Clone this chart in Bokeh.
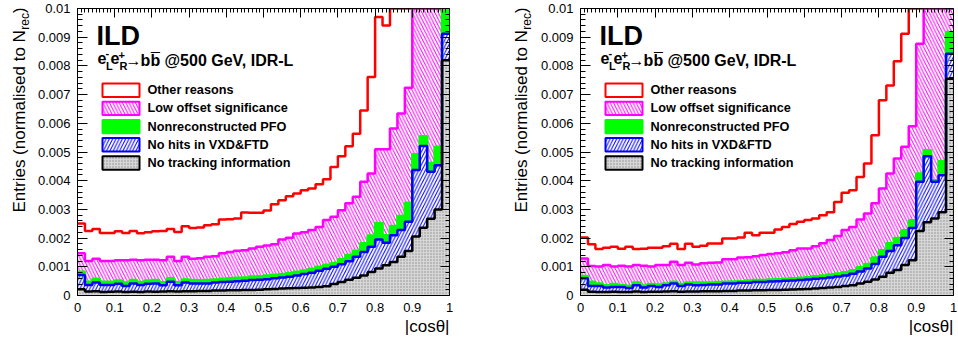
import numpy as np
from bokeh.plotting import figure
from bokeh.layouts import row
from bokeh.core.properties import value
from bokeh.models import (Range1d, LinearAxis, FixedTicker, CustomJSTickFormatter,
                          Label, BoxAnnotation, Title, ColumnDataSource)
from bokeh.embed import file_html
from bokeh.resources import INLINE

FONT = "Liberation Sans"

# |cos(theta)| histogram binning
N_BINS = 50
X_LO, X_HI = 0.0, 1.0
Y_HI = 0.01
UNIT = 1e-3  # the per-bin lists below are in units of 1e-3

# stacked categories, bottom to top
categories = ["No tracking information", "No hits in VXD&FTD",
              "Nonreconstructed PFO", "Low offset significance", "Other reasons"]

# ---- left panel: per-bin entries (x 1e-3, normalised to N_rec) ----
left_no_tracking = [0.22, 0.14, 0.15, 0.12, 0.13, 0.14, 0.12, 0.13, 0.12, 0.14,
                    0.13, 0.14, 0.15, 0.14, 0.15, 0.15, 0.16, 0.16, 0.17, 0.17,
                    0.18, 0.18, 0.19, 0.19, 0.20, 0.22, 0.23, 0.24, 0.25, 0.26,
                    0.27, 0.28, 0.30, 0.32, 0.40, 0.47, 0.55, 0.62, 0.70, 0.82,
                    0.94, 1.05, 1.17, 1.35, 1.55, 2.06, 2.36, 2.67, 3.00, 8.20]
left_no_hits = [0.49, 0.23, 0.30, 0.25, 0.24, 0.27, 0.21, 0.29, 0.25, 0.27,
                0.29, 0.22, 0.33, 0.22, 0.30, 0.27, 0.26, 0.26, 0.28, 0.30,
                0.30, 0.32, 0.32, 0.35, 0.35, 0.35, 0.37, 0.39, 0.40, 0.44,
                0.48, 0.51, 0.56, 0.61, 0.60, 0.62, 0.64, 0.73, 0.82, 0.88,
                1.01, 0.79, 0.93, 0.93, 1.02, 2.31, 2.85, 1.64, 1.54, 0.92]
left_nonreco = [0.12, 0.11, 0.13, 0.11, 0.11, 0.11, 0.12, 0.12, 0.10, 0.11,
                0.12, 0.10, 0.12, 0.10, 0.11, 0.12, 0.11, 0.12, 0.11, 0.11,
                0.12, 0.12, 0.12, 0.12, 0.12, 0.13, 0.12, 0.12, 0.13, 0.13,
                0.12, 0.14, 0.14, 0.14, 0.12, 0.17, 0.22, 0.21, 0.30, 0.39,
                0.58, 0.26, 0.32, 0.49, 0.66, 0.55, 0.34, 0.31, 0.64, 0.83]
left_low_offset = [0.64, 0.72, 0.70, 0.72, 0.72, 0.71, 0.78, 0.71, 0.76, 0.73,
                   0.71, 0.77, 0.75, 0.74, 0.79, 0.74, 0.77, 0.81, 0.81, 0.89,
                   0.92, 0.94, 0.95, 0.98, 1.03, 1.04, 1.07, 1.20, 1.23, 1.33,
                   1.33, 1.35, 1.39, 1.56, 1.62, 1.71, 1.80, 1.88, 2.14, 2.16,
                   2.57, 3.00, 3.40, 3.57, 4.01, 5.88, 6.45, 6.88, 7.82, 6.05]
left_other = [1.04, 1.05, 1.04, 0.98, 0.98, 1.01, 0.95, 1.00, 0.94, 0.95,
              0.99, 1.02, 0.97, 1.01, 1.06, 1.07, 1.07, 1.10, 1.11, 1.18,
              1.14, 1.12, 1.31, 1.24, 1.18, 1.22, 1.39, 1.37, 1.45, 1.39,
              1.47, 1.45, 1.49, 1.42, 1.74, 1.88, 1.99, 2.20, 2.49, 3.36,
              4.60, 4.31, 5.38, 6.16, 6.26, 4.20, 5.00, 6.50, 7.00, 9.00]

# ---- right panel ----
right_no_tracking = [0.20, 0.13, 0.12, 0.12, 0.13, 0.12, 0.12, 0.14, 0.12, 0.13,
                     0.13, 0.14, 0.15, 0.13, 0.14, 0.14, 0.15, 0.15, 0.15, 0.16,
                     0.16, 0.17, 0.17, 0.18, 0.18, 0.19, 0.19, 0.20, 0.21, 0.22,
                     0.23, 0.24, 0.26, 0.28, 0.30, 0.33, 0.36, 0.42, 0.48, 0.56,
                     0.65, 0.79, 0.89, 1.06, 1.23, 2.25, 2.55, 2.68, 2.90, 7.55]
right_no_hits = [0.40, 0.20, 0.21, 0.16, 0.17, 0.18, 0.14, 0.22, 0.16, 0.20,
                 0.17, 0.22, 0.27, 0.20, 0.24, 0.22, 0.22, 0.23, 0.23, 0.26,
                 0.26, 0.27, 0.27, 0.29, 0.29, 0.30, 0.31, 0.31, 0.31, 0.32,
                 0.33, 0.34, 0.34, 0.35, 0.36, 0.37, 0.40, 0.42, 0.46, 0.54,
                 0.70, 0.76, 0.86, 0.94, 1.12, 1.71, 2.30, 1.28, 1.29, 0.87]
right_nonreco = [0.08, 0.15, 0.09, 0.08, 0.10, 0.06, 0.08, 0.09, 0.07, 0.07,
                 0.08, 0.06, 0.06, 0.07, 0.07, 0.09, 0.08, 0.07, 0.09, 0.06,
                 0.07, 0.06, 0.08, 0.07, 0.07, 0.07, 0.07, 0.07, 0.08, 0.08,
                 0.08, 0.09, 0.10, 0.10, 0.11, 0.11, 0.12, 0.14, 0.16, 0.22,
                 0.23, 0.27, 0.25, 0.27, 0.27, 0.29, 0.21, 0.06, 0.50, 0.76]
right_low_offset = [0.61, 0.55, 0.59, 0.70, 0.61, 0.68, 0.67, 0.61, 0.69, 0.61,
                    0.68, 0.64, 0.70, 0.66, 0.69, 0.63, 0.67, 0.69, 0.68, 0.78,
                    0.77, 0.82, 0.81, 0.83, 0.87, 0.89, 0.90, 0.93, 0.98, 1.02,
                    1.00, 1.05, 1.12, 1.20, 1.30, 1.47, 1.51, 1.67, 1.76, 1.89,
                    2.15, 2.43, 2.77, 2.91, 3.28, 4.52, 5.74, 7.48, 7.81, 4.82]
right_other = [0.73, 0.76, 0.61, 0.60, 0.69, 0.59, 0.69, 0.56, 0.59, 0.65,
               0.60, 0.66, 0.62, 0.56, 0.66, 0.62, 0.61, 0.67, 0.66, 0.73,
               0.73, 0.70, 0.86, 0.73, 0.78, 0.74, 0.83, 0.88, 0.91, 0.93,
               0.99, 0.96, 0.98, 0.97, 1.19, 1.30, 1.28, 1.48, 1.74, 2.37,
               3.07, 3.07, 3.39, 3.94, 5.10, 4.23, 4.20, 4.50, 5.50, 6.00]

# axis ticks
x_major_ticks = [0.0, 0.1, 0.2, 0.3, 0.4, 0.5, 0.6, 0.7, 0.8, 0.9, 1.0]
x_minor_ticks = [round(0.01 * i, 2) for i in range(101)]
y_major_ticks = [0.0, 0.001, 0.002, 0.003, 0.004, 0.005, 0.006, 0.007, 0.008, 0.009, 0.01]
y_minor_ticks = [round(0.0002 * i, 4) for i in range(51)]

y_title = ["Entries (normalised to N", "rec", ")"]
x_title = "|cos\u03b8|"

STYLE = {
    "No tracking information": dict(fill="#d6d6d6", hatch=".", hatch_color="#8e8e8e",
                                    hatch_scale=3, line="#000000"),
    "No hits in VXD&FTD": dict(fill="#ffffff", hatch="/", hatch_color="#0000ff",
                               hatch_scale=6.5, line="#0000ff"),
    "Nonreconstructed PFO": dict(fill="#00ff00", hatch=None, hatch_color=None,
                                 hatch_scale=6, line="#00ff00"),
    "Low offset significance": dict(fill="#ffffff", hatch="\\", hatch_color="#ff00ff",
                                    hatch_scale=6.5, line="#ff00ff"),
    "Other reasons": dict(fill=None, hatch=None, hatch_color=None,
                          hatch_scale=6, line="#ff0000"),
}

H = 345
BORDER_TOP, BORDER_BOTTOM = 8, 50


def label(p, text, x, y, size, bold=False, **kw):
    p.add_layout(Label(x=x, y=y, x_units="screen", y_units="screen", text=text,
                       text_font=FONT, text_font_size=f"{size}px",
                       text_font_style="bold" if bold else "normal",
                       text_color="#000000", **kw))


def ext(a):
    return np.append(a, a[-1])


def edge_ticks(ticks, length, fixed):
    """Inward tick marks along the top/right frame edge, no labels."""
    ax = LinearAxis(ticker=FixedTicker(ticks=[], minor_ticks=ticks), fixed_location=fixed)
    ax.major_tick_in = 0
    ax.major_tick_out = 0
    ax.minor_tick_in = length
    ax.minor_tick_out = 0
    ax.minor_tick_line_color = "#000000"
    ax.axis_line_color = "#000000"
    return ax


def title_column(width, baseline_x):
    """Narrow canvas holding the rotated y-axis title with its subscript.
    Its frame matches the panels' frame; data y = canvas height - pixel row."""
    f = figure(width=width, height=H,
               x_range=Range1d(0, width),
               y_range=Range1d(H - (H - BORDER_BOTTOM), H - BORDER_TOP),
               x_axis_type=None, y_axis_type=None, output_backend="svg",
               toolbar_location=None, min_border_left=0, min_border_right=0,
               min_border_top=BORDER_TOP, min_border_bottom=BORDER_BOTTOM)
    f.outline_line_color = None
    f.background_fill_color = "#ffffff"
    f.border_fill_color = "#ffffff"
    main, sub = 17.0, 12.0
    start = 212.0                   # pixel row of the lower end of the title
    n_len = 10.725 * main           # advance of the main part
    sub_len = 1.389 * sub
    mid = lambda fs: 0.3465 * fs    # em-box middle relative to the baseline
    centers = [start - n_len / 2,
               start - n_len - 0.5 - sub_len / 2,
               start - n_len - 0.5 - sub_len - 0.333 * main / 2]
    src = ColumnDataSource(dict(
        x=[baseline_x - mid(main), baseline_x + 4 - mid(sub), baseline_x - mid(main)],
        y=[H - c for c in centers],
        text=y_title,
        size=[f"{main}px", f"{sub}px", f"{main}px"]))
    f.text(x="x", y="y", text="text", text_font_size="size", source=src,
           angle=np.pi / 2, text_align="center", text_baseline="middle",
           text_font=value(FONT), text_color="#000000")
    return f


def make_panel(series, border_left, border_right, frame_w):
    p = figure(width=border_left + frame_w + border_right, height=H,
               x_range=Range1d(X_LO, X_HI), y_range=Range1d(0, Y_HI),
               output_backend="svg", toolbar_location=None,
               min_border_left=border_left, min_border_right=border_right,
               min_border_top=BORDER_TOP, min_border_bottom=BORDER_BOTTOM)
    p.grid.visible = False
    p.outline_line_color = "#000000"
    p.background_fill_color = "#ffffff"
    p.border_fill_color = "#ffffff"

    edges = np.linspace(X_LO, X_HI, N_BINS + 1)
    lower = np.zeros(N_BINS)
    tops = []
    for name, vals in zip(categories, series):
        assert len(vals) == N_BINS
        upper = lower + np.asarray(vals) * UNIT
        st = STYLE[name]
        if st["fill"] is not None:
            kw = dict(fill_color=st["fill"], fill_alpha=1.0)
            if st["hatch"]:
                kw.update(hatch_pattern=st["hatch"], hatch_color=st["hatch_color"],
                          hatch_scale=st["hatch_scale"], hatch_weight=1.0)
            p.varea_step(x=edges, y1=ext(lower), y2=ext(upper), step_mode="after", **kw)
        tops.append(upper)
        lower = upper

    # outlines: top of each cumulative stack, drawn top category first
    for name, upper in reversed(list(zip(categories, tops))):
        p.step(x=edges, y=ext(np.minimum(upper, Y_HI)), mode="after",
               line_color=STYLE[name]["line"], line_width=2.5)

    # axes
    fmt_x = CustomJSTickFormatter(code='return tick.toFixed(1).replace(/\\.?0+$/, "");')
    fmt_y = CustomJSTickFormatter(code='return tick.toFixed(3).replace(/\\.?0+$/, "");')
    for ax in p.xaxis:
        ax.ticker = FixedTicker(ticks=x_major_ticks, minor_ticks=x_minor_ticks)
        ax.formatter = fmt_x
        ax.major_tick_in = 0
        ax.major_tick_out = 0
        ax.minor_tick_in = 0
        ax.minor_tick_out = 0
        ax.major_label_standoff = 7
    for ax in p.yaxis:
        ax.ticker = FixedTicker(ticks=y_major_ticks, minor_ticks=y_minor_ticks)
        ax.formatter = fmt_y
        ax.major_tick_in = 10
        ax.major_tick_out = 0
        ax.minor_tick_in = 5
        ax.minor_tick_out = 0
        ax.major_label_standoff = 7
    for ax in list(p.xaxis) + list(p.yaxis):
        ax.major_label_text_font = FONT
        ax.major_label_text_font_size = "13px"
        ax.major_label_text_color = "#000000"
        ax.axis_line_color = "#000000"
        ax.major_tick_line_color = "#000000"
        ax.minor_tick_line_color = "#000000"

    p.add_layout(edge_ticks(x_minor_ticks, 4, Y_HI), "above")
    p.add_layout(edge_ticks(x_major_ticks, 9, Y_HI), "above")
    p.add_layout(edge_ticks(y_minor_ticks, 4, X_HI), "right")
    p.add_layout(edge_ticks(y_major_ticks, 9, X_HI), "right")

    p.add_layout(Title(text=x_title, align="right", text_font=FONT,
                       text_font_size="17px", text_font_style="normal",
                       text_color="#000000", standoff=0, offset=0), "below")

    # experiment / process labels (y = top of the em box, up from the frame bottom)
    label(p, "ILD", 19, 275, 27, bold=True, text_baseline="top")
    top = dict(text_baseline="top")
    label(p, "e", 20, 244, 16, bold=True, **top)
    label(p, "-", 28, 246.3, 11, bold=True, **top)
    label(p, "L", 28.5, 235.5, 11, bold=True, **top)
    label(p, "e", 33, 244, 16, bold=True, **top)
    label(p, "+", 41, 244.8, 11, bold=True, **top)
    label(p, "R", 42, 235.5, 11, bold=True, **top)
    label(p, "\u2192", 48, 244, 16, bold=True, **top)
    label(p, "b", 63, 244, 16, bold=True, **top)
    label(p, "b", 73, 244, 16, bold=True, **top)
    label(p, "\u00af", 73.5, 245, 16, bold=True, **top)
    label(p, "@500 GeV, IDR-L", 87, 244, 16, bold=True, **top)

    # legend (top entry first)
    for i, name in enumerate(reversed(categories)):
        st = STYLE[name]
        top_y = 212.0 - 18.2 * i
        bottom_y = top_y - 13.4
        kw = dict(fill_color=st["fill"] if st["fill"] else "#ffffff", fill_alpha=1.0,
                  line_color=st["line"], line_width=2, line_alpha=1.0)
        if st["hatch"]:
            kw.update(hatch_pattern=st["hatch"], hatch_color=st["hatch_color"],
                      hatch_scale=st["hatch_scale"], hatch_weight=1.0)
        p.add_layout(BoxAnnotation(left=25, right=62, top=top_y, bottom=bottom_y,
                                   left_units="screen", right_units="screen",
                                   top_units="screen", bottom_units="screen", **kw))
        label(p, name, 70, top_y - 6.7, 12.7, bold=True, text_baseline="middle")
    return p


left = make_panel([left_no_tracking, left_no_hits, left_nonreco, left_low_offset, left_other],
                  44, 30, 372)
right = make_panel([right_no_tracking, right_no_hits, right_nonreco, right_low_offset, right_other],
                   43, 5, 373)

layout = row(title_column(33, 25), left, title_column(58, 48), right)
open("out.html", "w").write(file_html(layout, INLINE))
